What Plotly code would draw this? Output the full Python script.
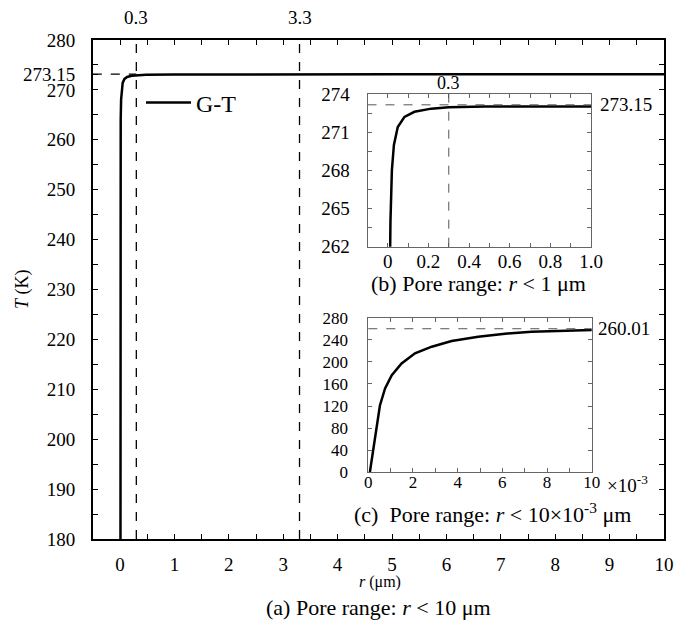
import plotly.graph_objects as go

# ---- data ----
r_um = [0.00007, 0.00018, 0.00027, 0.000375, 0.00052, 0.00075, 0.00105, 0.00149,
        0.00209, 0.00284, 0.00373, 0.00492, 0.00612, 0.00731, 0.0088, 0.0100,
        0.013, 0.020, 0.030, 0.049, 0.082, 0.131, 0.214, 0.300, 0.477,
        1.0, 2.0, 5.0, 10.0]
T_K = [0, 31, 55, 85, 121, 152, 176, 197,
       215.5, 227.5, 237.8, 245.6, 251.0, 254.7, 257.7, 259.6,
       264.0, 268.0, 270.0, 271.4, 272.2, 272.6, 272.85, 272.95, 273.02,
       273.07, 273.10, 273.13, 273.15]

T_bulk = 273.15
T_c_end = 260.01
r_marks = [0.3, 3.3]

main_xticks = list(range(0, 11))
main_yticks = [180, 190, 200, 210, 220, 230, 240, 250, 260, 270, 273.15, 280]
main_yticktext = ["180", "190", "200", "210", "220", "230", "240", "250", "260", "270", "273.15", "280"]

b_xticks = [0, 0.2, 0.4, 0.6, 0.8, 1.0]
b_xticktext = ["0", "0.2", "0.4", "0.6", "0.8", "1.0"]
b_yticks = [262, 265, 268, 271, 274]

c_xticks = [0, 0.002, 0.004, 0.006, 0.008, 0.010]
c_xticktext = ["0", "2", "4", "6", "8", "10"]
c_yticks = [0, 40, 80, 120, 160, 200, 240, 280]

FONT = "Liberation Serif"
W, H = 674, 624

fig = go.Figure()
for ax, show in [("", True), ("2", False), ("3", False)]:
    fig.add_trace(go.Scatter(
        x=r_um, y=T_K, mode="lines", name="G-T", showlegend=show,
        line=dict(color="black", width=2.5),
        xaxis="x" + ax, yaxis="y" + ax))

def px_x(p):
    return p / W

def px_y(p):
    return (H - p) / H

main_ax = dict(showgrid=False, zeroline=False, showline=True, linecolor="black",
               linewidth=1.5, mirror="allticks", ticks="inside", ticklen=5,
               tickwidth=1.2, tickcolor="black", automargin=False,
               tickfont=dict(family=FONT, size=19, color="black"))
inset_ax = dict(showgrid=False, zeroline=False, showline=True, linecolor="#666",
                linewidth=1, mirror="allticks", ticks="inside", ticklen=4,
                tickwidth=1, tickcolor="#666", automargin=False)
fb = dict(family=FONT, size=19, color="black")
fc = dict(family=FONT, size=17, color="black")

fig.update_layout(
    width=W, height=H,
    margin=dict(l=0, r=0, t=0, b=0, autoexpand=False),
    paper_bgcolor="white", plot_bgcolor="white",
    font=dict(family=FONT, color="black"),
    xaxis=dict(**main_ax, domain=[px_x(92.8), px_x(664)], range=[-0.5, 10],
               tickvals=main_xticks, anchor="y", ticklabelstandoff=7,
               minor=dict(dtick=0.5, tick0=0, ticks="inside", ticklen=5,
                          tickcolor="black", tickwidth=1.2)),
    yaxis=dict(**main_ax, domain=[px_y(539), px_y(40)], range=[180, 280],
               tickvals=main_yticks, ticktext=main_yticktext, anchor="x",
               ticklabelstandoff=12,
               minor=dict(dtick=5, tick0=180, ticks="inside", ticklen=5,
                          tickcolor="black", tickwidth=1.2)),
    xaxis2=dict(**inset_ax, tickfont=fb, domain=[px_x(367.5), px_x(591)],
                range=[-0.1, 1.0], tickvals=b_xticks, ticktext=b_xticktext,
                anchor="y2", ticklabelstandoff=-3,
                minor=dict(dtick=0.1, tick0=0, ticks="inside", ticklen=4,
                           tickcolor="#666")),
    yaxis2=dict(**inset_ax, tickfont=fb, domain=[px_y(246.7), px_y(94)],
                range=[262, 274], tickvals=b_yticks, anchor="x2",
                ticklabelstandoff=13,
                minor=dict(dtick=1.5, tick0=262, ticks="inside", ticklen=4,
                           tickcolor="#666")),
    xaxis3=dict(**inset_ax, tickfont=fc, domain=[px_x(368.3), px_x(591.7)],
                range=[0, 0.010], tickvals=c_xticks, ticktext=c_xticktext,
                anchor="y3", ticklabelstandoff=-6,
                minor=dict(dtick=0.001, tick0=0, ticks="inside", ticklen=4,
                           tickcolor="#666")),
    yaxis3=dict(**inset_ax, tickfont=fc, domain=[px_y(472.3), px_y(317.7)],
                range=[0, 280], tickvals=c_yticks, anchor="x3",
                ticklabelstandoff=16),
    legend=dict(x=px_x(141), y=px_y(103), xanchor="left", yanchor="middle",
                itemwidth=45, bgcolor="rgba(0,0,0,0)",
                font=dict(family=FONT, size=24)),
)

# reference (dashed) lines
dash_main = dict(color="black", width=1.3, dash="dash")
dash_in = dict(color="#555", width=1, dash="dash")
for rm in r_marks:
    fig.add_shape(type="line", xref="x", yref="y domain", x0=rm, x1=rm, y0=0, y1=1,
                  line=dash_main)
fig.add_shape(type="line", xref="x", yref="y", x0=-0.5, x1=r_marks[0],
              y0=T_bulk, y1=T_bulk, line=dash_main)
fig.add_shape(type="line", xref="x2", yref="y2 domain", x0=r_marks[0], x1=r_marks[0],
              y0=0, y1=1, line=dash_in)
fig.add_shape(type="line", xref="x2 domain", yref="y2", x0=0, x1=1,
              y0=T_bulk, y1=T_bulk, line=dash_in)
fig.add_shape(type="line", xref="x3 domain", yref="y3", x0=0, x1=1,
              y0=T_c_end, y1=T_c_end, line=dash_in)

def ann(text, x, y, xref="paper", yref="paper", size=19, xanchor="center",
        yanchor="middle", angle=0):
    fig.add_annotation(text=text, x=x, y=y, xref=xref, yref=yref, showarrow=False,
                       xanchor=xanchor, yanchor=yanchor, textangle=angle,
                       font=dict(family=FONT, size=size, color="black"))

for rm in r_marks:
    ann(str(rm), rm, px_y(17), xref="x")
ann("0.3", r_marks[0], px_y(83), xref="x2", size=18)
ann("273.15", px_x(598), T_bulk, yref="y2", xanchor="left", size=19)
ann("260.01", px_x(596), T_c_end, yref="y3", xanchor="left", size=19)
ann("×10<sup>-3</sup>", px_x(605), px_y(484), xanchor="left", size=19)
ann("(b) Pore range: <i>r</i> &lt; 1 μm", px_x(478.5), px_y(283), size=22)
ann("(c)&nbsp; Pore range: <i>r</i> &lt; 10×10<sup>-3</sup> μm", px_x(492), px_y(513), size=22)
ann("<i>r</i> (μm)", px_x(380), px_y(582), size=16)
ann("(a) Pore range: <i>r</i> &lt; 10 μm", px_x(378), px_y(607), size=22)
ann("<i>T</i> (K)", px_x(22), px_y(289), size=18, angle=-90)

# remove the default page margin so the 674x624 figure fills the window exactly
fig.write_html("out.html", config={"displayModeBar": False},
               post_script="document.body.style.margin='0px';")
